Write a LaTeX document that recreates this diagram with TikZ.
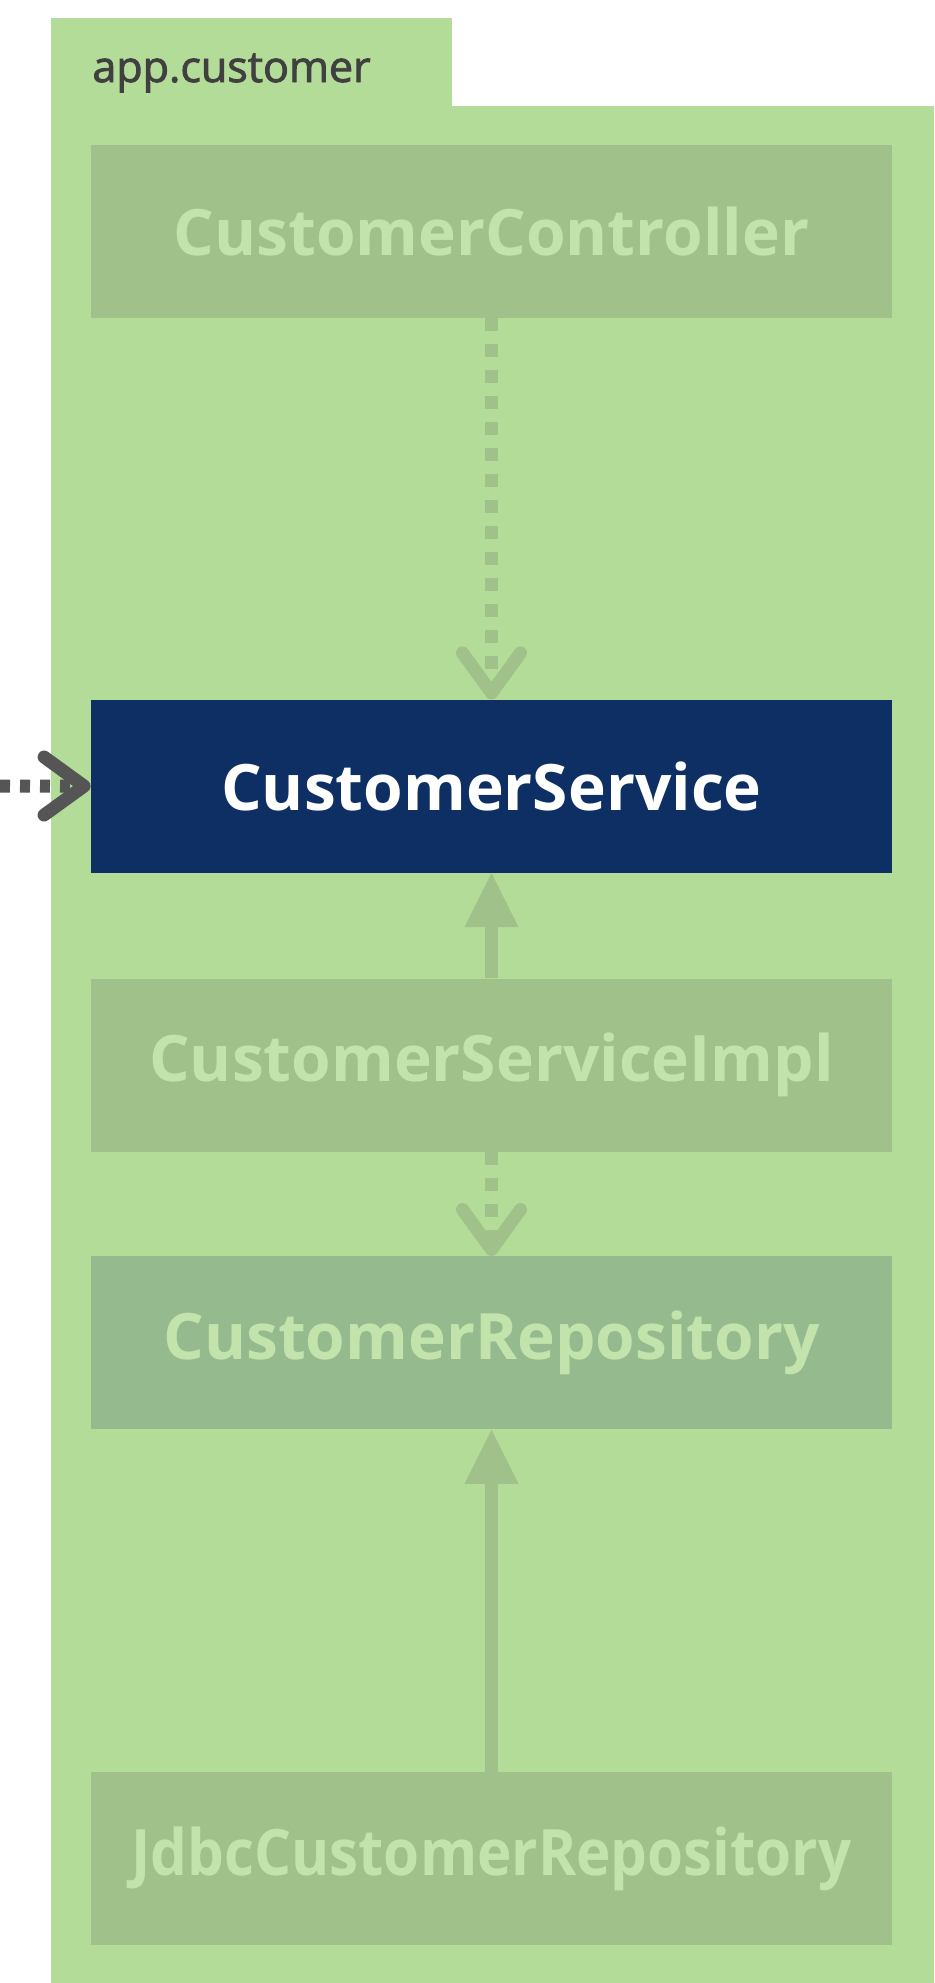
\documentclass[tikz,border=0pt]{standalone}
\usepackage{fontspec}
\setmainfont{Open Sans}
\newfontfamily\pkgfont{Open Sans}[AutoFakeBold=2]
\usepackage{xcolor}
\usepackage{graphicx}
\usetikzlibrary{arrows.meta,positioning}

\definecolor{pkggreen}{HTML}{B4DC99}
\definecolor{boxgreen}{HTML}{A0C18A}
\definecolor{repogreen}{HTML}{94BA8D}
\definecolor{boxtext}{HTML}{C3E3AD}
\definecolor{svcnavy}{HTML}{0E2F63}
\definecolor{extgray}{HTML}{555555}
\definecolor{pkgtext}{HTML}{404040}

\begin{document}
\begin{tikzpicture}[x=0.5pt, y=-0.5pt,
  cls/.style={rectangle, fill=boxgreen, text=boxtext, inner sep=0pt,
    minimum width=400.5pt, minimum height=86.5pt,
    font=\fontsize{32}{38}\selectfont\bfseries},
  uses/.style={draw=boxgreen, line width=6.5pt, dash pattern=on 6.5pt off 6.5pt,
    -{Straight Barb[length=20pt, width=29pt, round]}},
  realizes/.style={draw=boxgreen, line width=6.5pt,
    -{Triangle[length=27pt, width=27pt, line width=0pt]}}]
  \useasboundingbox (0,0) rectangle (934,1983);
  % package
  \fill[pkggreen] (51,18) rectangle (452,106);
  \fill[pkggreen] (51,106) rectangle (934,1983);
  \node[anchor=base west, inner sep=0pt, text=pkgtext,
        font=\pkgfont\fontsize{21.5}{26}\selectfont\bfseries] (pkg) at (92,82) {app.customer};

  % classes
  \node[cls] (ctrl) at (491.5,231.5) {CustomerController};
  \node[cls, fill=svcnavy, text=white, below=190.5pt of ctrl] (svc) {CustomerService};
  \node[cls, below=52.5pt of svc] (impl) {CustomerServiceImpl};
  \node[cls, fill=repogreen, below=52pt of impl] (repo) {CustomerRepository};
  \node[cls, below=171pt of repo] (jdbc) {\scalebox{0.91}[1]{JdbcCustomerRepository}};

  % dependencies
  \draw[uses] (ctrl) -- (svc);
  \draw[realizes] (impl) -- (svc);
  \draw[uses] (impl) -- (repo);
  \draw[realizes] (jdbc) -- (repo);
  \coordinate (ext) at (0,786);
  \draw[uses, draw=extgray, dash pattern=on 5pt off 5pt] (ext) -- (svc);
\end{tikzpicture}
\end{document}
